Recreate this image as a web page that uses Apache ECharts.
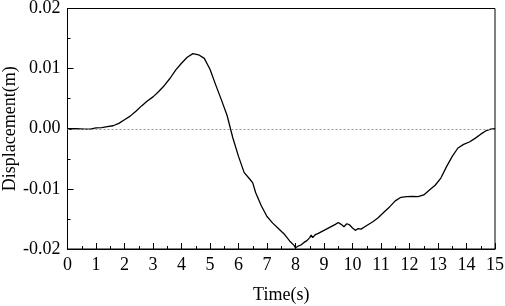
<!DOCTYPE html>
<html>
<head>
<meta charset="utf-8">
<script src="https://cdn.jsdelivr.net/npm/echarts@6/dist/echarts.min.js"></script>
<style>
  html, body { margin: 0; padding: 0; background: #fff; }
  #chart { width: 505px; height: 306px; }
</style>
</head>
<body>
<div id="chart"></div>
<script>
// time (s) and displacement (in mm, converted to m below)
const timeS = [0, 0.3, 0.6, 0.8, 1.0, 1.2, 1.4, 1.6, 1.8, 2.0, 2.2, 2.4, 2.6, 2.8, 3.0, 3.2, 3.4, 3.6, 3.8, 4.0,
  4.2, 4.4, 4.6, 4.8, 5.0, 5.2, 5.4, 5.6, 5.8, 6.0, 6.2, 6.4, 6.5, 6.6, 6.8, 7.0, 7.2, 7.4, 7.6, 7.8,
  7.95, 8.0, 8.05, 8.1, 8.2, 8.3, 8.4, 8.5, 8.55, 8.6, 8.7, 8.8, 9.0, 9.2, 9.4, 9.5, 9.6, 9.7, 9.8, 9.85,
  9.9, 10.0, 10.1, 10.15, 10.2, 10.3, 10.5, 10.7, 10.9, 11.1, 11.3, 11.5, 11.7, 11.9, 12.1, 12.3, 12.5, 12.7, 12.9, 13.1,
  13.3, 13.5, 13.7, 13.9, 14.1, 14.3, 14.5, 14.7, 14.85, 15.0]
const dispMm = [0, 0, -0.05, -0.05, 0.15, 0.2, 0.35, 0.5, 0.9, 1.5, 2.1, 2.9, 3.8, 4.6, 5.3, 6.2, 7.2, 8.4, 9.8, 10.9,
  11.9, 12.5, 12.3, 11.7, 9.9, 7.3, 4.8, 2.2, -1.5, -4.6, -7.3, -8.4, -9.0, -10.6, -12.8, -14.6, -15.7, -16.6, -17.5, -18.7,
  -19.4, -19.8, -19.95, -19.5, -19.3, -18.9, -18.6, -18.1, -17.7, -18.1, -17.6, -17.4, -16.9, -16.4, -15.9, -15.6, -15.9, -16.3, -15.8, -15.6,
  -16.0, -16.5, -16.9, -17.1, -16.6, -16.7, -16.1, -15.5, -14.8, -13.9, -13.0, -12.0, -11.4, -11.3, -11.25, -11.3, -11.0, -10.2, -9.4, -8.2,
  -6.3, -4.6, -3.2, -2.6, -2.2, -1.6, -0.9, -0.3, -0.05, 0]

const seriesData = timeS.map((t, i) => [t, dispMm[i] / 1000])

const font = 'Liberation Serif, Times New Roman, serif'

const chart = echarts.init(document.getElementById('chart'))
chart.setOption({
  animation: false,
  grid: {
    left: 67.5,
    right: 10,
    top: 8.5,
    bottom: 57,
    outerBoundsMode: 'none',
    containLabel: false,
    show: true,
    borderColor: '#000',
    borderWidth: 1
  },
  xAxis: {
    type: 'value',
    min: 0,
    max: 15,
    interval: 1,
    name: 'Time(s)',
    nameLocation: 'middle',
    nameGap: 37,
    nameMoveOverlap: false,
    nameTextStyle: { fontFamily: font, fontSize: 18, color: '#000' },
    axisLine: { onZero: false, lineStyle: { color: '#000', width: 1 } },
    axisTick: { inside: true, length: 6, lineStyle: { color: '#000' } },
    minorTick: { show: true, splitNumber: 2, length: 3, lineStyle: { color: '#000' } },
    axisLabel: { fontFamily: font, fontSize: 18, color: '#000', margin: 7 },
    splitLine: { show: false }
  },
  yAxis: {
    type: 'value',
    min: -0.02,
    max: 0.02,
    interval: 0.01,
    name: 'Displacement(m)',
    nameLocation: 'middle',
    nameGap: 48,
    nameMoveOverlap: false,
    nameTextStyle: { fontFamily: font, fontSize: 18, color: '#000' },
    axisLine: { show: true, onZero: false, lineStyle: { color: '#000', width: 1 } },
    axisTick: { inside: true, length: 6, lineStyle: { color: '#000' } },
    minorTick: { show: true, splitNumber: 2, length: 3, lineStyle: { color: '#000' } },
    axisLabel: {
      fontFamily: font, fontSize: 18, color: '#000', margin: 7,
      formatter: v => v.toFixed(2)
    },
    splitLine: { show: false }
  },
  series: [{
    type: 'line',
    data: seriesData,
    showSymbol: false,
    lineStyle: { color: '#000', width: 1.3 },
    markLine: {
      silent: true,
      symbol: 'none',
      label: { show: false },
      lineStyle: { color: '#999', type: [2, 2], width: 1 },
      data: [{ yAxis: 0 }]
    }
  }]
})
</script>
</body>
</html>
